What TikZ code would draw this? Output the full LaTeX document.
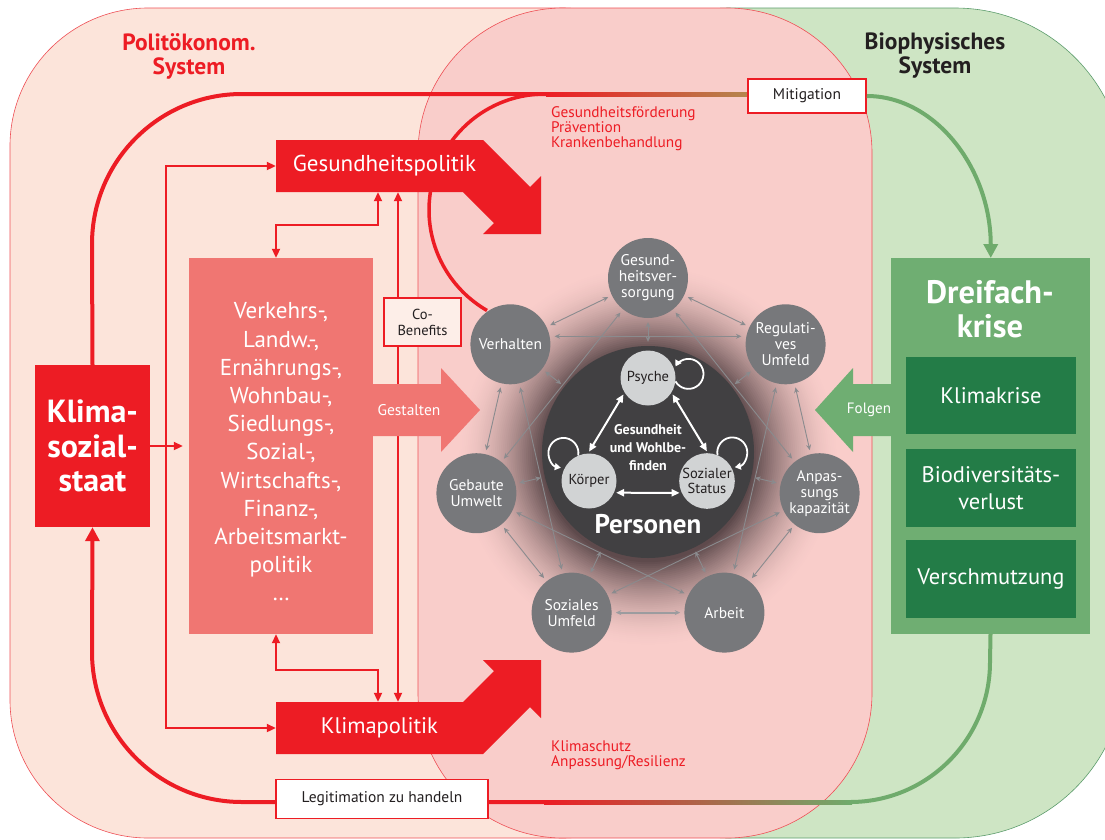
\documentclass[tikz,border=0pt]{standalone}
\usepackage{fontspec}
\setmainfont{PT Sans}
\usetikzlibrary{arrows.meta,calc}
\definecolor{peach}{HTML}{FCE4DA}
\definecolor{pinkbg}{HTML}{F9CDCA}
\definecolor{greenbg}{HTML}{CEE5C4}
\definecolor{redm}{HTML}{ED1C24}
\definecolor{redb}{HTML}{EE4F55}
\definecolor{salmon}{HTML}{F07672}
\definecolor{greenm}{HTML}{6FAE72}
\definecolor{greenl}{HTML}{6FAB6C}
\definecolor{greenb}{HTML}{5C9C6C}
\definecolor{greend}{HTML}{237C47}
\definecolor{brownl}{HTML}{B3884E}
\definecolor{grayn}{HTML}{77787B}
\definecolor{grayl}{HTML}{8A8B8E}
\definecolor{darkp}{HTML}{414042}
\definecolor{lightc}{HTML}{D1D3D4}
\definecolor{txtd}{HTML}{231F20}
\definecolor{cobg}{HTML}{FDEEE8}
\definecolor{glowa}{HTML}{5E4A4C}
\pgfdeclarelayer{back}
\pgfdeclarelayer{mid}
\pgfsetlayers{back,mid,main}
\newcommand{\myfs}[2]{\fontsize{#1}{#2}\selectfont}

\begin{document}
\begin{tikzpicture}[x=1pt,y=-1pt,
  region/.style={line width=0.6pt},
  bigline/.style={line width=4pt},
  rline/.style={draw=redm, line width=2pt},
  rarr/.style={rline, >={Triangle[length=9pt,width=8pt]}, ->},
  rboth/.style={rline, >={Triangle[length=9pt,width=8pt]}, <->},
  garr/.style={draw=grayl, line width=0.9pt, >={Stealth[length=5.5pt,width=5pt]}, <->, shorten <=4pt, shorten >=4pt},
  warr/.style={draw=white, line width=2pt, >={Triangle[length=8pt,width=7pt]}, <->, shorten <=2pt, shorten >=2pt},
  wloop/.style={draw=white, line width=1.8pt, >={Triangle[length=6pt,width=7pt]}, ->},
  onode/.style={circle, fill=grayn, minimum size=80pt, inner sep=0pt, text=white, font=\myfs{15.5}{16}, align=center},
  inode/.style={circle, fill=lightc, minimum size=55pt, inner sep=0pt, text=txtd, font=\myfs{14.5}{15.5}, align=center},
  wbox/.style={fill=white, draw=redm, line width=1.5pt, inner sep=0pt, text=txtd, font=\myfs{15.5}{17}},
  gbox/.style={fill=greend, minimum width=170pt, inner sep=0pt, text=white, font=\myfs{22.5}{27}, align=center},
  note/.style={anchor=north west, inner sep=0pt, text=redm, font=\myfs{15.3}{15}, align=left}
]
\useasboundingbox (0,0) rectangle (1105,839);

\begin{pgfonlayer}{back}
\begin{scope}
\clip (0,0) rectangle (1105,839);
\draw[region, fill=peach, draw=redb, rounded corners=138pt] (10,8) rectangle (700,838);
\draw[region, fill=greenbg, draw=greenb, rounded corners=170pt] (560,8) rectangle (1125,838);
\draw[region, fill=pinkbg, draw=redb, rounded corners=145pt] (418,8) rectangle (872,838);
\foreach \i in {0,...,44} {
  \pgfmathsetmacro\rr{192-1.95*\i}
  \pgfmathsetmacro\pp{100*(\i/44)^1.7}
  \fill[glowa!\pp!pinkbg] (648,456) circle[radius=\rr];
}
\end{scope}
\end{pgfonlayer}

% titles
\node[font=\myfs{23.5}{24}\bfseries, text=redm, align=center] (tpol) at (189,56) {Politökonom.\\System};
\node[font=\myfs{23.5}{24}\bfseries, text=txtd, align=center] (tbio) at (935,56) {Biophysisches\\System};

% main boxes (nodes)
\node[fill=redm, minimum width=115pt, minimum height=162pt, inner sep=0pt, text=white, font=\myfs{32}{34.5}\bfseries, align=center] (ks) at (92.5,446) {Klima-\\sozial-\\staat};
\node[fill=salmon, minimum width=184pt, minimum height=376pt, inner sep=0pt] (pol) at (281,446) {};
\node[text=white, font=\myfs{23}{28.2}, align=center] (poltext) at (281,452) {Verkehrs-,\\Landw.-,\\Ernährungs-,\\Wohnbau-,\\Siedlungs-,\\Sozial-,\\Wirtschafts-,\\Finanz-,\\Arbeitsmarkt-\\politik\\…};
\node[fill=greenm, minimum width=199pt, minimum height=376pt, inner sep=0pt] (dk) at (990.5,446) {};
\node[text=white, font=\myfs{32.5}{34}\bfseries, align=center] (dkt) at (990,309) {Dreifach-\\krise};
\node[gbox, minimum height=77pt] (kk) at (991,395.5) {Klimakrise};
\node[gbox, minimum height=78pt] (bv) at (991,488) {Biodiversitäts-\\verlust};
\node[gbox, minimum height=78pt] (vs) at (991,579) {Verschmutzung};

% big loop lines
\draw[bigline, draw=redm] (ks.north) -- (92,244) arc[start angle=180, end angle=270, radius=150] -- (548,94);
\shade[left color=redm, right color=brownl] (546,92) rectangle (752,96);
\draw[line width=3.5pt, draw=redm] (545,94) arc[start angle=270, end angle=120, radius=116];
\node[wbox, minimum width=118pt, minimum height=34pt] (mit) at (807,96) {Mitigation};
\draw[bigline, draw=greenl, >={Triangle[length=14pt,width=14pt]}, ->] (mit.east) arc[start angle=-90, end angle=0, x radius=124, y radius=162];

\draw[bigline, draw=greenl] (dk.south) -- (990,662) arc[start angle=0, end angle=90, radius=140] -- (846,802);
\shade[left color=redm, right color=greenl] (544,800) rectangle (852,804);
\draw[bigline, draw=redm, >={Triangle[length=14pt,width=14pt]}, ->] (548,802) -- (242,802) arc[start angle=90, end angle=180, radius=150] -- (ks.south);
\node[wbox, minimum width=212pt, minimum height=39pt] (leg) at (382,799) {Legitimation zu handeln};

% policy arrows
\fill[redm] (276,140) -- (483,140) -- (530,187) -- (541,176) -- (541,234) -- (483,234) -- (494,223) -- (463,192) -- (276,192) -- cycle;
\node[minimum width=207pt, minimum height=52pt, inner sep=0pt, text=white, font=\myfs{23}{24}] (gp) at (379.5,166) {\hspace*{10pt}Gesundheitspolitik};
\fill[redm] (276,754) -- (483,754) -- (530,707) -- (541,718) -- (541,660) -- (483,660) -- (494,671) -- (463,702) -- (276,702) -- cycle;
\node[minimum width=207pt, minimum height=52pt, inner sep=0pt, text=white, font=\myfs{22.5}{24}] (kp) at (379.5,728) {Klimapolitik};

\node[note] (n1) at (551,106) {Gesundheitsförderung\\Prävention\\Krankenbehandlung};
\node[note] (n2) at (551,740) {Klimaschutz\\Anpassung/Resilienz};

% red connectors
\draw[rboth] (gp.west) -| (166,446) |- (kp.west);
\draw[rarr, shorten >=6pt] (ks.east) -- (pol.west);
\draw[rboth] ($(pol.north)+(-5,0)$) |- (328,225) -| ($(gp.south)+(-1.5,0)$);
\draw[rboth] ($(pol.south)+(-5,0)$) |- (328,670) -| ($(kp.north)+(-1.5,0)$);
\draw[rboth] ($(gp.south)+(18.5,0)$) -- ($(kp.north)+(18.5,0)$);
\node[fill=cobg, draw=redm, line width=1.5pt, minimum width=77pt, minimum height=48pt, inner sep=0pt, font=\myfs{14.5}{16}, text=txtd, align=center] (cob) at (422.5,322) {Co-\\Benefits};

% Gestalten / Folgen
\fill[salmon] (373,384) -- (441,384) -- (441,368) -- (480,410) -- (441,452) -- (441,436) -- (373,436) -- cycle;
\node[text=white, font=\myfs{15.5}{16}] (gest) at (409,410) {Gestalten};
\fill[greenm] (891,384) -- (853,384) -- (853,368) -- (815,410) -- (853,452) -- (853,436) -- (891,436) -- cycle;
\node[text=white, font=\myfs{15}{16}] (folg) at (869,410) {Folgen};

% network
\node[circle, fill=darkp, minimum size=212pt, inner sep=0pt] (pers) at (648,452) {};
\node[text=white, font=\myfs{27}{28}\bfseries] (perslab) at (648,524) {Personen};
\node[onode] (gv) at (648,278) {Gesund-\\heitsver-\\sorgung};
\node[onode] (reg) at (785.6,344.3) {Regulati-\\ves\\Umfeld};
\node[onode] (anp) at (819.6,493.2) {Anpas-\\sungs\\kapazität};
\node[onode] (arb) at (724.4,612.6) {Arbeit};
\node[onode] (soz) at (571.6,612.6) {Soziales\\Umfeld};
\node[onode] (geb) at (476.4,493.2) {Gebaute\\Umwelt};
\node[onode] (ver) at (510.4,344.3) {Verhalten};

\node[inode] (psy) at (648,378) {Psyche};
\node[inode] (kor) at (589,481) {Körper};
\node[inode] (sta) at (707,481) {Sozialer\\Status};

\draw[warr] (psy.212) -- (kor.92);
\draw[warr] (psy.-32) -- (sta.88);
\draw[warr] (kor.-25) -- (sta.205);
\draw[wloop] (psy.-7) arc[start angle=150, end angle=-150, radius=15];
\draw[wloop] (kor.113) arc[start angle=10, end angle=-260, radius=15];
\draw[wloop] (sta.68) arc[start angle=170, end angle=440, radius=15];
\node[text=white, font=\myfs{14}{18}\bfseries, align=center] (gw) at (648,448) {Gesundheit\\und Wohlbe-\\finden};

\begin{pgfonlayer}{mid}
\foreach \a/\b in {gv/reg, reg/anp, anp/arb, soz/geb, geb/ver, ver/gv, gv/anp, reg/arb, anp/soz, arb/geb, soz/ver, geb/gv}
  \draw[garr] (\a) -- (\b);
\draw[garr] ([yshift=8pt]ver.east) -- ([yshift=8pt]reg.west);
\draw[garr, line width=2pt, draw=grayl!85!white] (soz) -- (arb);
\foreach \a in {gv,reg,anp,arb,soz,geb,ver}
  \draw[garr] (\a) -- (pers);
\end{pgfonlayer}
\end{tikzpicture}
\end{document}
